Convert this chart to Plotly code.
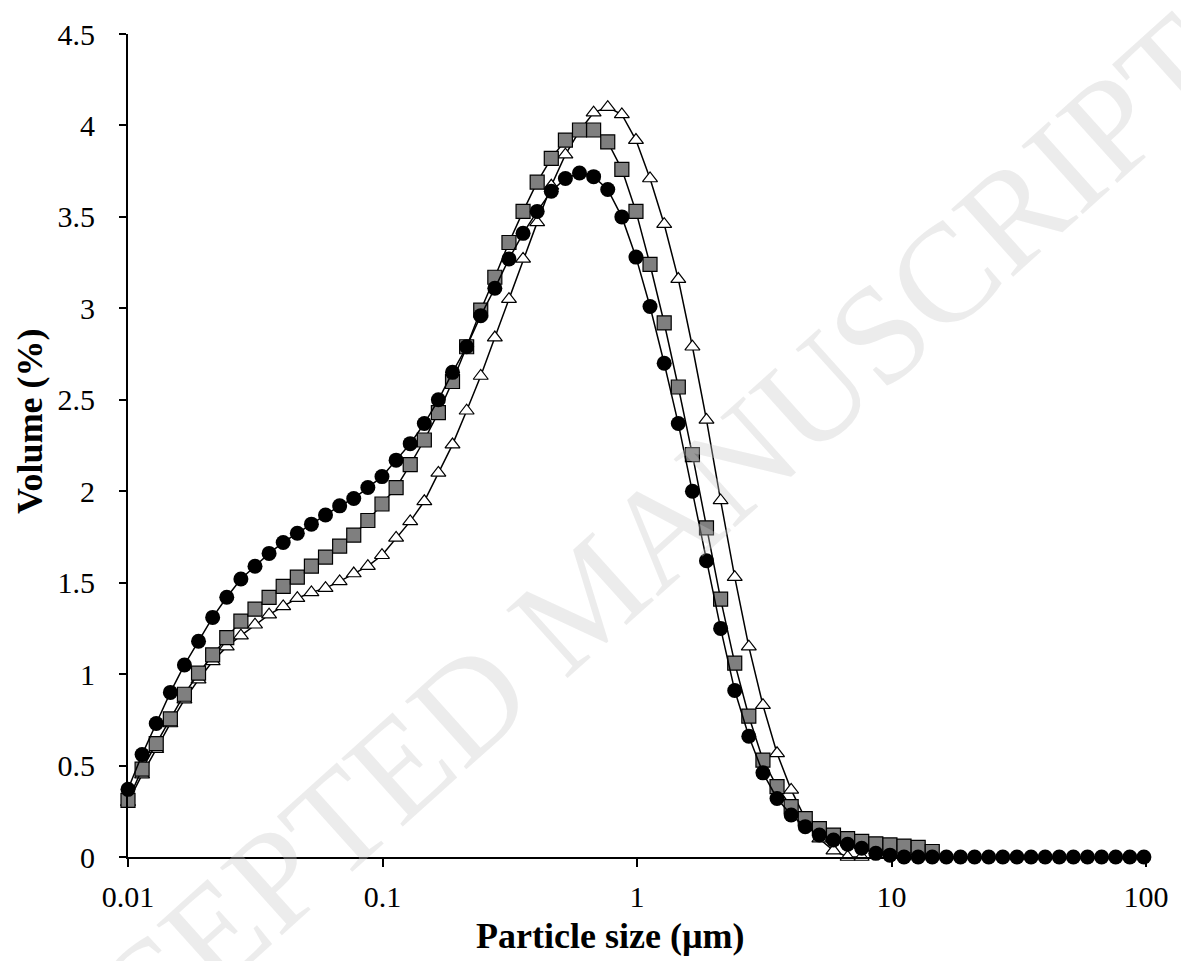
import plotly.graph_objects as go

# Particle size grid (µm), log-spaced size classes
size_um = [0.0100, 0.01136, 0.01291, 0.01467, 0.01666, 0.01893, 0.02151, 0.02444, 0.02777, 0.03155,
           0.03584, 0.04072, 0.04627, 0.05256, 0.05972, 0.06786, 0.07709, 0.08759, 0.09953, 0.1131,
           0.1285, 0.1460, 0.1658, 0.1884, 0.2141, 0.2432, 0.2763, 0.3140, 0.3567, 0.4053,
           0.4605, 0.5232, 0.5944, 0.6754, 0.7674, 0.8719, 0.9906, 1.125, 1.279, 1.453,
           1.651, 1.875, 2.131, 2.421, 2.750, 3.125, 3.550, 4.034, 4.583, 5.207,
           5.916, 6.722, 7.637, 8.677, 9.859, 11.20, 12.73, 14.46, 16.43, 18.67,
           21.21, 24.10, 27.38, 31.11, 35.35, 40.16, 45.63, 51.84, 58.90, 66.92,
           76.03, 86.39, 98.13]

# Series: black circles
vol_circles = [0.37, 0.56, 0.73, 0.90, 1.05, 1.18, 1.31, 1.42, 1.52, 1.59,
               1.66, 1.72, 1.77, 1.82, 1.87, 1.92, 1.96, 2.02, 2.08, 2.17,
               2.26, 2.37, 2.50, 2.65, 2.79, 2.96, 3.11, 3.27, 3.41, 3.53,
               3.64, 3.71, 3.74, 3.72, 3.65, 3.50, 3.28, 3.01, 2.70, 2.37,
               2.00, 1.62, 1.25, 0.91, 0.66, 0.46, 0.32, 0.23, 0.166, 0.12,
               0.093, 0.07, 0.048, 0.02, 0.01, 0.0, 0.0, 0.0, 0.0, 0.0,
               0.0, 0.0, 0.0, 0.0, 0.0, 0.0, 0.0, 0.0, 0.0, 0.0,
               0.0, 0.0, 0.0]

# Series: grey squares
vol_squares = [0.31, 0.48, 0.62, 0.755, 0.89, 1.005, 1.105, 1.20, 1.29, 1.355,
               1.42, 1.48, 1.53, 1.59, 1.64, 1.70, 1.76, 1.84, 1.93, 2.02,
               2.145, 2.28, 2.43, 2.60, 2.79, 2.99, 3.17, 3.36, 3.53, 3.69,
               3.82, 3.92, 3.975, 3.975, 3.91, 3.76, 3.53, 3.24, 2.92, 2.57,
               2.20, 1.80, 1.41, 1.06, 0.77, 0.53, 0.385, 0.275, 0.21, 0.155,
               0.12, 0.10, 0.085, 0.072, 0.066, 0.06, 0.053, 0.03]

# Series: open triangles
vol_triangles = [0.30, 0.45, 0.59, 0.73, 0.86, 0.97, 1.07, 1.15, 1.21, 1.27,
                 1.325, 1.37, 1.415, 1.447, 1.47, 1.507, 1.55, 1.59, 1.65, 1.745,
                 1.835, 1.945, 2.10, 2.255, 2.44, 2.63, 2.84, 3.05, 3.27, 3.47,
                 3.67, 3.84, 3.97, 4.07, 4.10, 4.06, 3.92, 3.71, 3.46, 3.16,
                 2.79, 2.39, 1.95, 1.53, 1.15, 0.83, 0.567, 0.367, 0.21, 0.10,
                 0.035, 0.0, 0.0]

x_tickvals = [0.01, 0.1, 1, 10, 100]
x_ticktext = ["0.01", "0.1", "1", "10", "100"]
y_tickvals = [0, 0.5, 1, 1.5, 2, 2.5, 3, 3.5, 4, 4.5]
y_ticktext = ["0", "0.5", "1", "1.5", "2", "2.5", "3", "3.5", "4", "4.5"]

FONT = "Liberation Serif"

fig = go.Figure()

fig.add_trace(go.Scatter(
    x=size_um[:len(vol_triangles)], y=vol_triangles, mode="lines+markers",
    line=dict(color="black", width=1.5),
    marker=dict(symbol="triangle-up", size=13, color="white",
                line=dict(color="black", width=1.2)),
    showlegend=False, cliponaxis=False))

fig.add_trace(go.Scatter(
    x=size_um[:len(vol_squares)], y=vol_squares, mode="lines+markers",
    line=dict(color="black", width=1.5),
    marker=dict(symbol="square", size=14, color="#7f7f7f",
                line=dict(color="black", width=1.2)),
    showlegend=False, cliponaxis=False))

fig.add_trace(go.Scatter(
    x=size_um[:len(vol_circles)], y=vol_circles, mode="lines+markers",
    line=dict(color="black", width=1.5),
    marker=dict(symbol="circle", size=15, color="black",
                line=dict(color="black", width=0)),
    showlegend=False, cliponaxis=False))

fig.update_layout(
    width=1181, height=961,
    margin=dict(l=128, r=24, t=34, b=104, pad=0),
    paper_bgcolor="white", plot_bgcolor="white",
    font=dict(family=FONT, color="black"),
    xaxis=dict(type="log", range=[-2, 2], tickvals=x_tickvals, ticktext=x_ticktext,
               showgrid=False, zeroline=False, showline=True, linecolor="black",
               linewidth=2, ticks="outside", ticklen=8, tickwidth=2, tickcolor="black",
               tickfont=dict(family=FONT, size=30, color="black"),
               ticklabelstandoff=4),
    yaxis=dict(range=[0, 4.5], tickvals=y_tickvals, ticktext=y_ticktext,
               showgrid=False, zeroline=False, showline=True, linecolor="black",
               linewidth=2, ticks="outside", ticklen=7, tickwidth=2, tickcolor="black",
               tickfont=dict(family=FONT, size=30, color="black"),
               ticklabelstandoff=18),
    annotations=[
        dict(text="<b>Particle size (µm)</b>", xref="paper", yref="paper",
             x=0.474, y=-0.0955, xanchor="center", yanchor="middle", showarrow=False,
             font=dict(family=FONT, size=36, color="black")),
        dict(text="<b>Volume (%)</b>", xref="paper", yref="paper",
             x=-0.096, y=0.53, xanchor="center", yanchor="middle", showarrow=False,
             textangle=-90, font=dict(family=FONT, size=36, color="black")),
        dict(text="ACCEPTED MANUSCRIPT", xref="paper", yref="paper",
             x=0.45, y=0.315, xanchor="center", yanchor="middle", showarrow=False,
             textangle=-42, font=dict(family=FONT, size=140, color="rgba(200,200,200,0.35)")),
    ],
)

fig.write_html("out.html", config={"displayModeBar": False},
               post_script="document.body.style.margin='0px';document.body.style.overflow='hidden';")
